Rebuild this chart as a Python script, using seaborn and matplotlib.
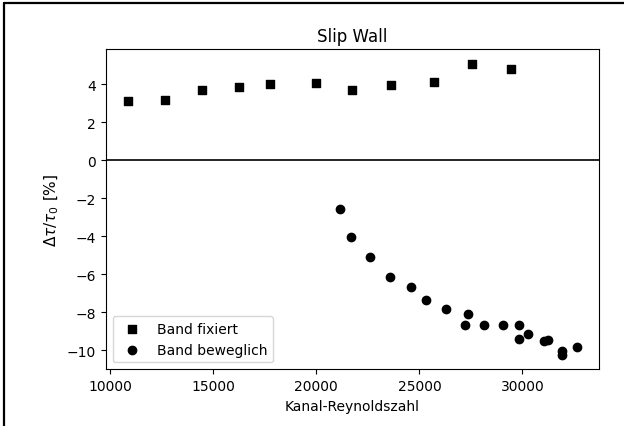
import matplotlib
matplotlib.use('Agg')
import matplotlib.pyplot as plt
from matplotlib.lines import Line2D
import seaborn as sns

sns.set_style('ticks')
plt.rcParams['font.family'] = ['DejaVu Sans']
plt.rcParams.update({'axes.edgecolor': 'black', 'xtick.color': 'black',
                     'ytick.color': 'black', 'text.color': 'black',
                     'axes.labelcolor': 'black', 'font.size': 10})

# Band fixiert (squares)
re_fix = [10870, 12670, 14450, 16250, 17760, 19970, 21750, 23630, 25700,
          27570, 29430]
dt_fix = [3.09, 3.17, 3.70, 3.86, 4.00, 4.08, 3.71, 3.93, 4.09, 5.08, 4.79]

# Band beweglich (circles)
re_mov = [21150, 21700, 22620, 23560, 24570, 25340, 26270, 27360, 27190,
          28130, 29070, 29850, 29850, 30290, 31060, 31240, 31930, 31930,
          32640]
dt_mov = [-2.56, -4.03, -5.11, -6.13, -6.69, -7.37, -7.83, -8.12, -8.69,
          -8.69, -8.69, -8.69, -9.40, -9.17, -9.54, -9.46, -10.06, -10.24,
          -9.85]

fig, ax = plt.subplots(figsize=(6.24, 4.27), dpi=100)
fig.subplots_adjust(left=0.1694, right=0.9604, top=0.8829, bottom=0.1328)

sns.scatterplot(x=re_fix, y=dt_fix, marker='s', color='k', s=36,
                edgecolor='k', linewidth=1, label='Band fixiert', ax=ax)
sns.scatterplot(x=re_mov, y=dt_mov, marker='o', color='k', s=36,
                edgecolor='k', linewidth=1, label='Band beweglich', ax=ax)

ax.axhline(0, color='k', linewidth=1.2)

ax.set_title('Slip Wall', fontsize=12)
ax.set_xlabel('Kanal-Reynoldszahl', fontsize=10)
ax.set_ylabel(r'$\Delta\tau/\tau_0$ [%]', fontsize=11)
ax.tick_params(axis='both', labelsize=10, direction='out', length=3.5,
               width=0.8)
ax.set_xticks([10000, 15000, 20000, 25000, 30000])
ax.set_yticks([-10, -8, -6, -4, -2, 0, 2, 4])
ax.legend(loc='lower left', fontsize=10)

# frame lines from the screenshot
fig.add_artist(Line2D([0.0064, 0.0064], [0, 0.9906], transform=fig.transFigure,
                      color='k', linewidth=1.6))
fig.add_artist(Line2D([0.0064, 1], [0.9906, 0.9906], transform=fig.transFigure,
                      color='k', linewidth=1.6))

plt.savefig('out.png', dpi=100)
plt.close()
